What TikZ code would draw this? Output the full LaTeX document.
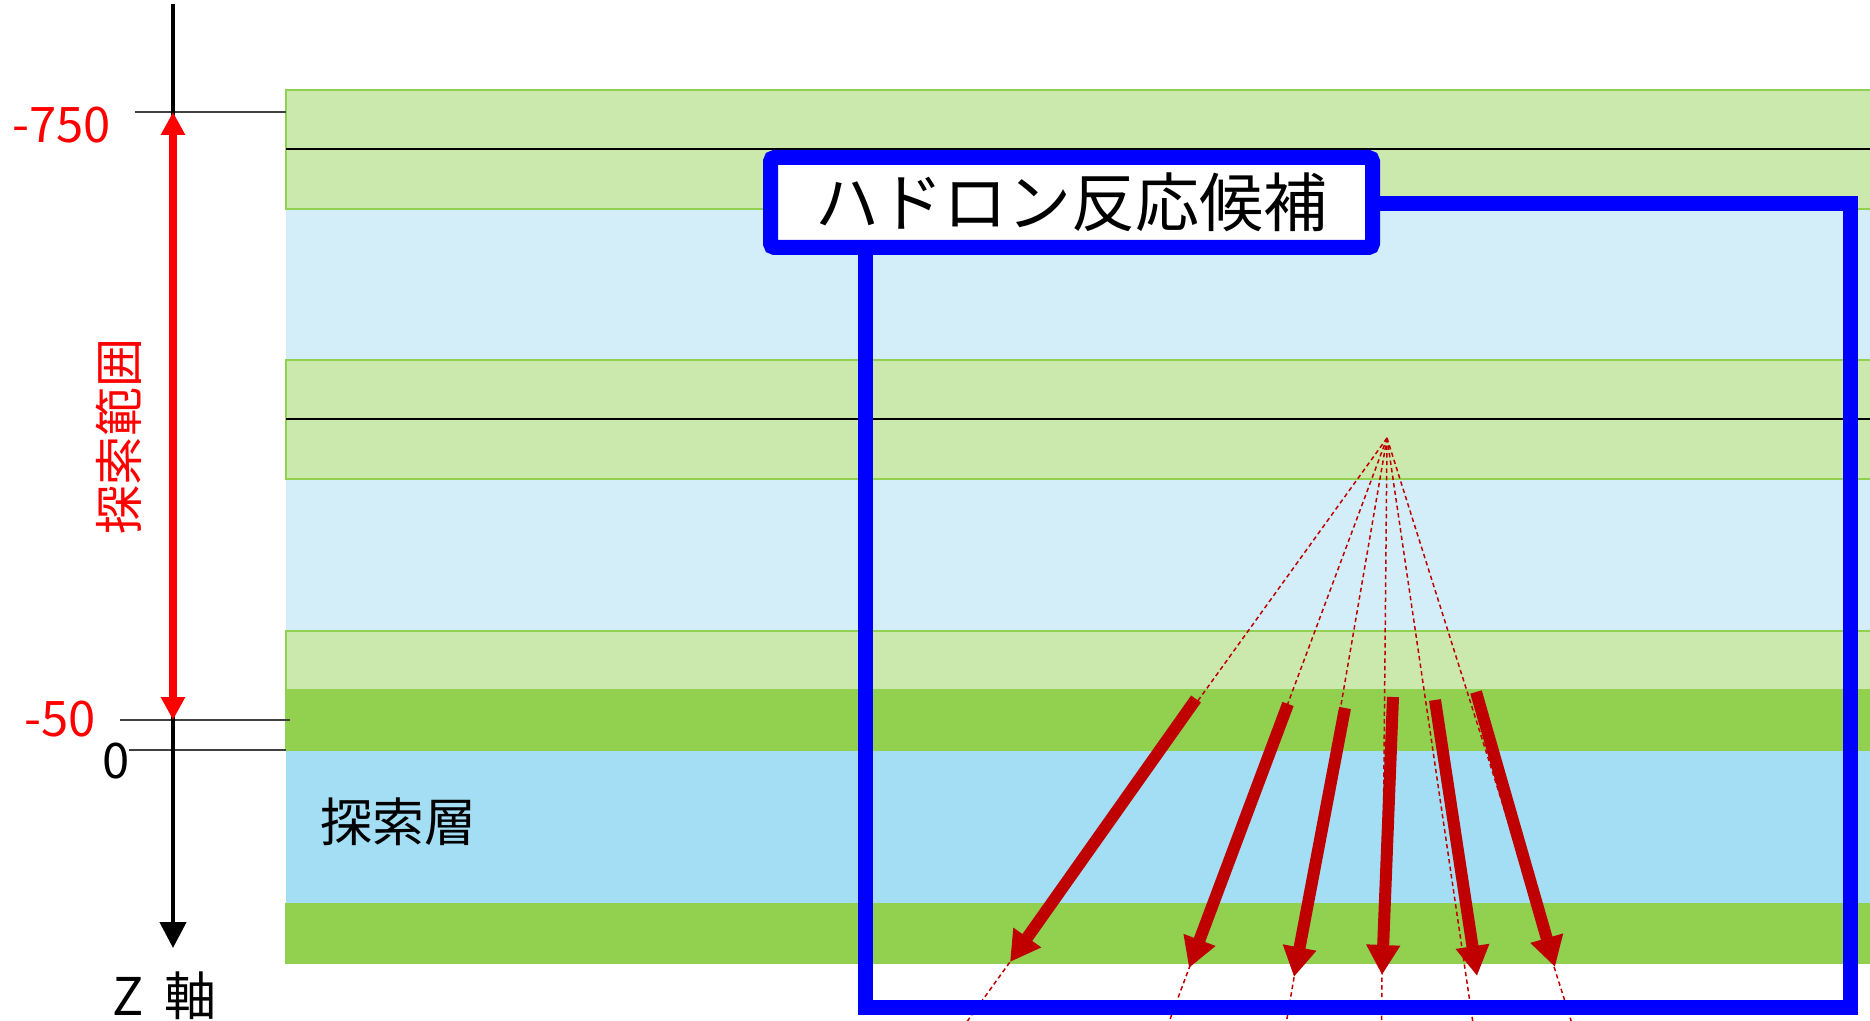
\documentclass[tikz,border=0pt]{standalone}
\usepackage{fontspec}
\setmainfont{Noto Sans CJK JP}
\usetikzlibrary{arrows.meta}
\definecolor{lgreen}{HTML}{CBE8AD}
\definecolor{dgreen}{HTML}{92D050}
\definecolor{lblue}{HTML}{D3EEF9}
\definecolor{mblue}{HTML}{A3DEF4}
\definecolor{dred}{HTML}{C00000}
\definecolor{tickgray}{HTML}{404040}
\newcommand{\fs}[1]{\fontsize{#1}{#1}\selectfont}
\begin{document}
\begin{tikzpicture}[x=0.5pt,y=-0.5pt,
  lgband/.style={fill=lgreen,draw=dgreen,line width=1pt},
  midline/.style={draw=black,line width=0.7pt},
  tickline/.style={draw=tickgray,line width=0.75pt},
  zaxis/.style={draw=black,line width=2.25pt,-{Triangle[length=13pt,width=13pt]}},
  rangearrow/.style={draw=red,line width=4pt,{Triangle[length=11.5pt,width=11.5pt]}-{Triangle[length=11.5pt,width=11.5pt]}},
  trackdash/.style={draw=dred,line width=0.75pt,dash pattern=on 2.2pt off 1.6pt},
  track/.style={draw=dred,line width=6pt,-{Triangle[length=15pt,width=16pt]}},
  bluebox/.style={draw=blue,line width=7.5pt},
  titlebox/.style={draw=blue,line width=7.5pt,fill=white,rounded corners=2pt,
    minimum width=301pt,minimum height=45pt,inner sep=0pt},
  lbl/.style={inner sep=0pt,font=\fs{24.5pt}}
]
\useasboundingbox (0,0) rectangle (1870,1021);
% layers
\fill[lblue] (286,209) rectangle (1880,360);
\fill[lblue] (286,479) rectangle (1880,631);
\path[lgband] (286,90) rectangle (1880,209);
\path[lgband] (286,360) rectangle (1880,479);
\path[lgband] (286,631) rectangle (1880,690);
\fill[dgreen] (285,690) rectangle (1880,751);
\fill[mblue] (286,751) rectangle (1880,903);
\fill[dgreen] (285,903) rectangle (1880,964);
\coordinate (m1a) at (286,149); \coordinate (m1b) at (1870,149);
\coordinate (m2a) at (286,419); \coordinate (m2b) at (1870,419);
\path[midline] (m1a) -- (m1b);
\path[midline] (m2a) -- (m2b);
% ticks
\coordinate (t750a) at (135,112); \coordinate (t750b) at (286,112);
\coordinate (t50a) at (120,720); \coordinate (t50b) at (290,720);
\coordinate (t0a) at (129,750); \coordinate (t0b) at (286,750);
\path[tickline] (t750a) -- (t750b);
\path[tickline] (t50a) -- (t50b);
\path[tickline] (t0a) -- (t0b);
% labels
\node[lbl,text=red,anchor=base east] (l750) at (111,143) {-750};
\node[lbl,text=red,anchor=base east] (l50) at (96,736) {-50};
\node[lbl,anchor=base east] (l0) at (130,778) {0};
\node[lbl,anchor=base west,font=\fs{26pt}] (lz) at (112,1015) {Z\hspace{0.4em}軸};
\node[lbl,text=red,rotate=90] (lrange) at (119,437) {探索範囲};
\node[inner sep=0pt,font=\fs{26pt}] (lsearch) at (398,822) {探索層};
% axis
\coordinate (ztop) at (173,4); \coordinate (zend) at (173,948);
\path[zaxis] (ztop) -- (zend);
\coordinate (rtop) at (173,112); \coordinate (rbot) at (173,720);
\path[rangearrow] (rbot) -- (rtop);
% dashed tracks
\coordinate (apex) at (1387,438);
\coordinate (d1) at (961,1030);
\coordinate (d2) at (1166,1030);
\coordinate (d3) at (1285,1030);
\coordinate (d4) at (1381.5,1030);
\coordinate (d5) at (1474,1030);
\coordinate (d6) at (1574,1030);
\foreach \i in {1,...,6} {\path[trackdash] (apex) -- (d\i);}
% thick tracks
\coordinate (s1) at (1196,699); \coordinate (e1) at (1010,962);
\coordinate (s2) at (1288,704); \coordinate (e2) at (1189,968);
\coordinate (s3) at (1345,708); \coordinate (e3) at (1294,977);
\coordinate (s4) at (1393,697); \coordinate (e4) at (1382,975);
\coordinate (s5) at (1435,700); \coordinate (e5) at (1477,976);
\coordinate (s6) at (1476,692); \coordinate (e6) at (1555,967);
\foreach \i in {1,...,6} {\path[track] (s\i) -- (e\i);}
% candidate box
\coordinate (bx1) at (865,204); \coordinate (bx2) at (1850,1007);
\path[bluebox] (bx1) rectangle (bx2);
\node[titlebox,font=\fs{32pt}] (title) at (1071.5,202.5) {ハドロン反応候補};
\end{tikzpicture}
\end{document}
